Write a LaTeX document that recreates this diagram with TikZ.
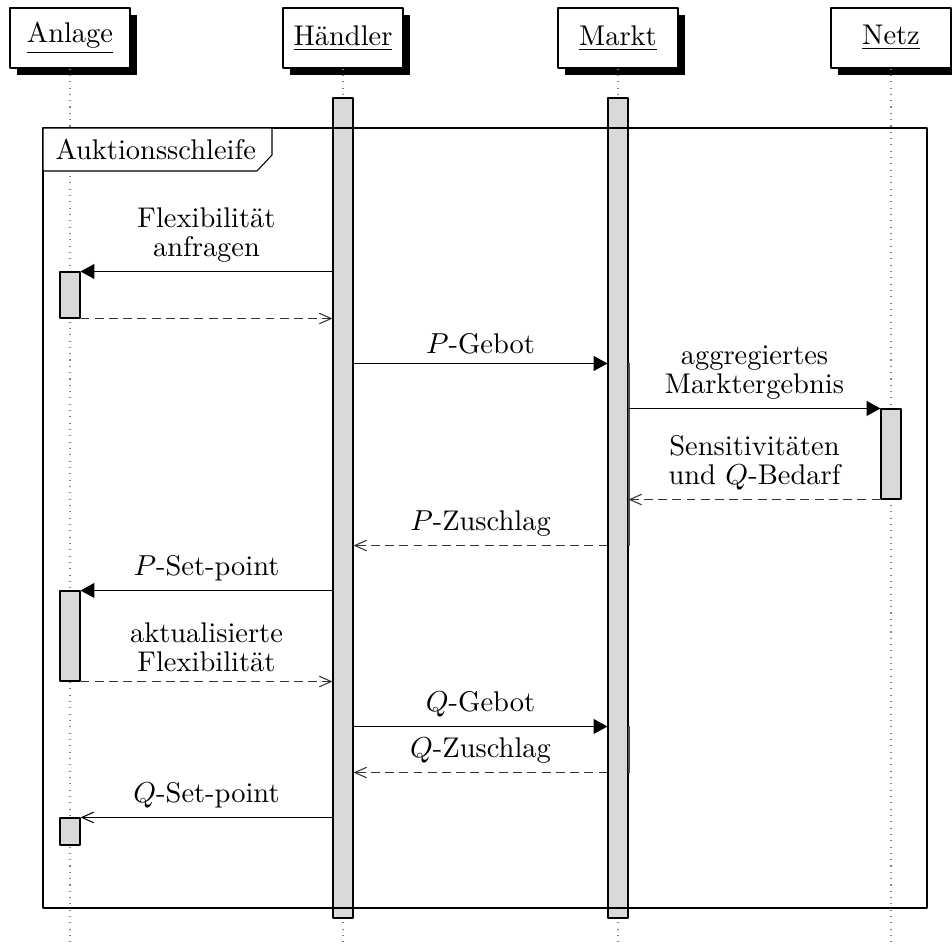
\documentclass[tikz,border=0pt]{standalone}
\usetikzlibrary{arrows.meta,shadows,fit}
\begin{document}
\begin{tikzpicture}[x=0.013333cm, y=-0.013333cm, line join=round, font=\fontsize{10.8pt}{11pt}\selectfont]
	\tikzset{inst/.style={draw, fill=white, minimum width=1.6cm, minimum height=0.8cm, drop shadow={opacity=1, fill=black, shadow xshift=2.6pt, shadow yshift=-2.6pt}},
		life/.style={dotted, gray},
		bar/.style={draw, fill=gray!30, inner sep=0pt},
		subbar/.style={inner sep=0pt},
		call/.style={-{Triangle[length=5.3pt, width=5.7pt]}},
		reply/.style={dash pattern=on 3.4pt off 2pt, draw=black!80, -{Straight Barb[length=4.5pt, width=4pt]}},
		async/.style={-{Straight Barb[length=4.5pt, width=4pt]}},
		msg/.style={above, align=center, text=black}}
	\useasboundingbox (0,0) rectangle (952,947);
	% threads
	\node[inst] (anlage) at (70,38) {\underline{Anlage}};
	\node[inst] (haendler) at (343,38) {\underline{Händler}};
	\node[inst] (markt) at (618,38) {\underline{Markt}};
	\node[inst] (netz) at (891,38) {\underline{Netz}};
	\foreach \t in {anlage, haendler, markt, netz}
		\draw[life] (\t.south) -- (\t.south |- 0,947);
	% activations
	\node[bar, fit={(333,98) (353,918)}] (hb) {};
	\node[bar, fit={(608,98) (628,918)}] (mb) {};
	\node[subbar, fit={(608.6,364) (628.6,545)}] (mb1) {};
	\node[subbar, fit={(608.6,727) (628.6,772)}] (mb2) {};
	\draw[black!70, line width=0.7pt] (mb1.north east) -- (mb1.south east);
	\draw[black!70, line width=0.7pt] (mb2.north east) -- (mb2.south east);
	\node[bar, fit={(881,409) (901,499)}] (nb) {};
	\node[bar, fit={(60,272) (80,318)}] (a1) {};
	\node[bar, fit={(60,591) (80,681)}] (a2) {};
	\node[bar, fit={(60,818) (80,845)}] (a3) {};
	% loop
	\draw (43,128) rectangle (927,908);
	\draw[fill=white] (43,128) -- (272,128) -- (272,155) -- (257,171) -- (43,171) -- cycle;
	\node[anchor=base west, inner sep=0pt] (loop) at (55,159) {Auktionsschleife};
	% messages
	\draw[call] (hb.west |- a1.north) -- (a1.north east) node[msg, midway] (m1) {Flexibilität\\anfragen};
	\draw[reply] (a1.south east) -- (hb.west |- a1.south);
	\draw[call] (hb.east |- mb1.north) -- (mb.west |- mb1.north) node[msg, midway] (m2) {$P$-Gebot};
	\draw[call] (mb.east |- nb.north) -- (nb.north west) node[msg, midway] (m3) {aggregiertes\\Marktergebnis};
	\draw[reply] (nb.south west) -- (mb.east |- nb.south) node[msg, midway] (m4) {Sensitivitäten\\und $Q$-Bedarf};
	\draw[reply] (mb.west |- mb1.south) -- (hb.east |- mb1.south) node[msg, midway] (m5) {$P$-Zuschlag};
	\draw[call] (hb.west |- a2.north) -- (a2.north east) node[msg, midway] (m6) {$P$-Set-point};
	\draw[reply] (a2.south east) -- (hb.west |- a2.south) node[msg, midway] (m7) {aktualisierte\\Flexibilität};
	\draw[call] (hb.east |- mb2.north) -- (mb.west |- mb2.north) node[msg, midway] (m8) {$Q$-Gebot};
	\draw[reply] (mb.west |- mb2.south) -- (hb.east |- mb2.south) node[msg, midway] (m9) {$Q$-Zuschlag};
	\draw[async] (hb.west |- a3.north) -- (a3.north east) node[msg, midway] (m10) {$Q$-Set-point};
\end{tikzpicture}
\end{document}
